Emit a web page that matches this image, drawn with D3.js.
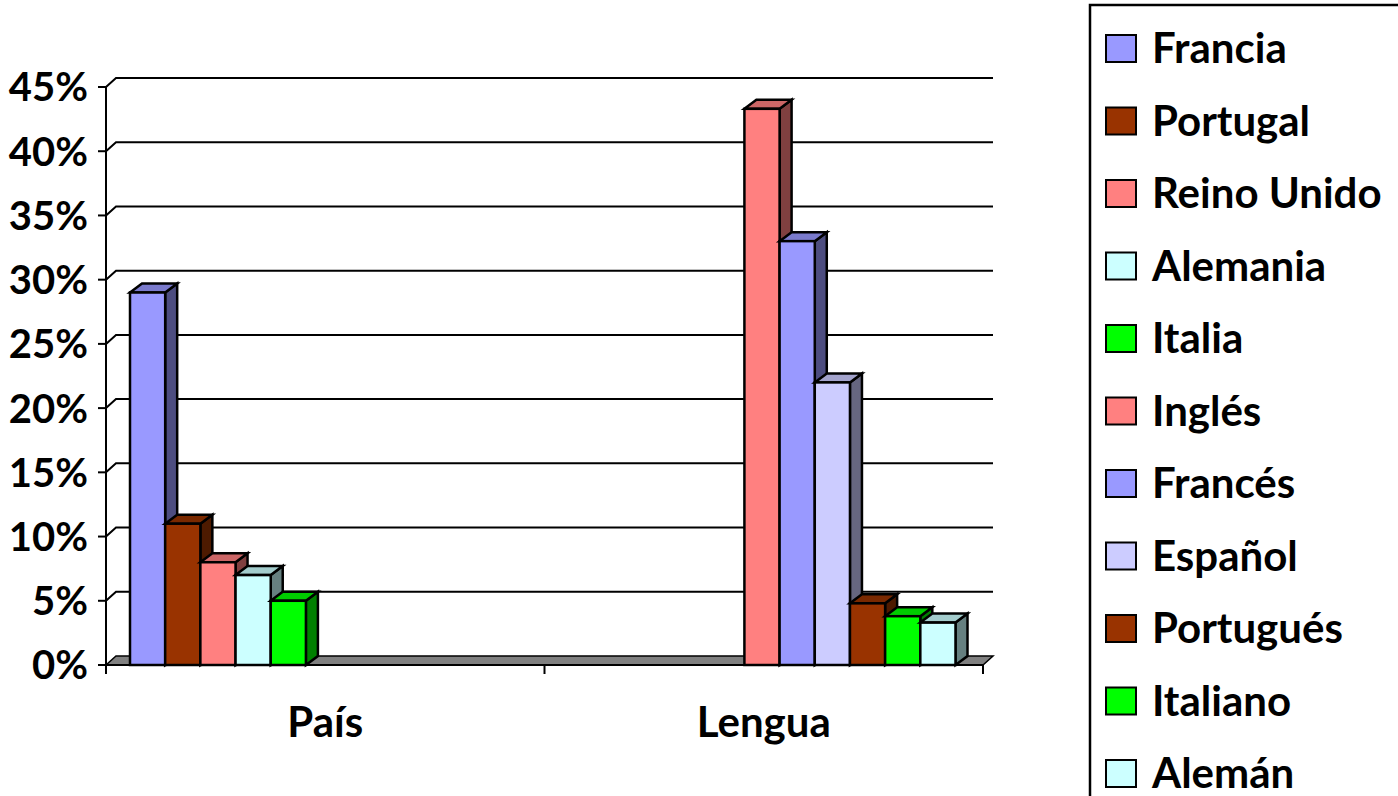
<!DOCTYPE html>
<html><head><meta charset="utf-8">
<script src="https://cdn.jsdelivr.net/npm/d3@7"></script>
<style>html,body{margin:0;padding:0;background:#fff;}svg{display:block;}</style>
</head><body>
<svg id="c" width="1398" height="796"></svg>
<script>
const categories = ["País", "Lengua"];
const seriesNames = ["Francia","Portugal","Reino Unido","Alemania","Italia","Inglés","Francés","Español","Portugués","Italiano","Alemán"];
const seriesColors = ["#9999FF","#993300","#FF8080","#CCFFFF","#00FF00","#FF8080","#9999FF","#CCCCFF","#993300","#00FF00","#CCFFFF"];
const paisValues   = [0.29, 0.11, 0.08, 0.07, 0.05, null, null, null, null, null, null];
const lenguaValues = [null, null, null, null, null, 0.433, 0.33, 0.22, 0.048, 0.038, 0.033];
const yTicks = [0,0.05,0.10,0.15,0.20,0.25,0.30,0.35,0.40,0.45];

const svg = d3.select("#c");
const FONT = "Lato, 'Open Sans', sans-serif";
const x0 = 106, x1 = 983, yBase = 665, yTop = 87;
const wdx = 10, wdy = -9;   // wall depth
const bdx = 12, bdy = -9;   // bar depth

const y = d3.scaleLinear().domain([0, 0.45]).range([yBase, yTop]);
const xCat = d3.scaleBand().domain(categories).range([x0, x1]).padding(0);
const xSer = d3.scaleBand().domain(seriesNames).range([24, 411]).padding(0);

const data = [];
categories.forEach((c, ci) => {
  const vals = ci === 0 ? paisValues : lenguaValues;
  seriesNames.forEach((s, si) => {
    if (vals[si] != null) data.push({cat: c, ser: s, v: vals[si], color: seriesColors[si]});
  });
});

// floor
svg.append("path")
  .attr("d", `M${x0},${yBase}L${x1},${yBase}L${x1+wdx},${yBase+wdy}L${x0+wdx},${yBase+wdy}Z`)
  .attr("fill", "#808080").attr("stroke", "#000").attr("stroke-width", 1.5);

// gridlines (back wall + left wall)
const g = svg.append("g");
yTicks.forEach(t => {
  if (t === 0) return;
  const yy = y(t);
  g.append("path")
    .attr("d", `M${x0},${yy}L${x0+wdx},${yy+wdy}L${x1+wdx},${yy+wdy}`)
    .attr("fill", "none").attr("stroke", "#000").attr("stroke-width", 2);
});

// y axis
svg.append("line").attr("x1", x0).attr("x2", x0).attr("y1", y(0.45)).attr("y2", yBase + 8)
  .attr("stroke", "#000").attr("stroke-width", 2);
yTicks.forEach(t => {
  svg.append("line").attr("x1", x0 - 8).attr("x2", x0).attr("y1", y(t)).attr("y2", y(t))
    .attr("stroke", "#000").attr("stroke-width", 2);
  svg.append("text").attr("x", 88).attr("y", y(t)).attr("dy", "0.36em")
    .attr("text-anchor", "end").attr("font-family", FONT).attr("font-weight", 700)
    .attr("font-size", 40).text(d3.format(".0%")(t));
});

// x axis
svg.append("line").attr("x1", x0).attr("x2", x1).attr("y1", yBase).attr("y2", yBase)
  .attr("stroke", "#000").attr("stroke-width", 2);
[x0, xCat("Lengua"), x1].forEach(xx => {
  svg.append("line").attr("x1", xx).attr("x2", xx).attr("y1", yBase).attr("y2", yBase + 9)
    .attr("stroke", "#000").attr("stroke-width", 2);
});
categories.forEach(c => {
  svg.append("text").attr("x", xCat(c) + xCat.bandwidth()/2).attr("y", 737)
    .attr("text-anchor", "middle").attr("font-family", FONT).attr("font-weight", 700)
    .attr("font-size", 42).text(c);
});

// bars
const shade = (col, k) => { const c = d3.rgb(col); return d3.rgb(c.r*k, c.g*k, c.b*k).formatHex(); };
data.forEach(d => {
  const bx = xCat(d.cat) + xSer(d.ser), bw = xSer.bandwidth();
  const ty = y(d.v), by = yBase;
  const bg = svg.append("g").attr("stroke", "#000").attr("stroke-width", 2.5).attr("stroke-linejoin", "miter");
  bg.append("path").attr("d", `M${bx+bw},${by}L${bx+bw+bdx},${by+bdy}L${bx+bw+bdx},${ty+bdy}L${bx+bw},${ty}Z`)
    .attr("fill", shade(d.color, 0.5));
  bg.append("path").attr("d", `M${bx},${ty}L${bx+bdx},${ty+bdy}L${bx+bw+bdx},${ty+bdy}L${bx+bw},${ty}Z`)
    .attr("fill", shade(d.color, 0.8));
  bg.append("rect").attr("x", bx).attr("y", ty).attr("width", bw).attr("height", by - ty)
    .attr("fill", d.color);
});

// legend
const lg = svg.append("g");
lg.append("rect").attr("x", 1090).attr("y", 5).attr("width", 320).attr("height", 800)
  .attr("fill", "#fff").attr("stroke", "#000").attr("stroke-width", 2.5);
const ly = d3.scalePoint().domain(seriesNames).range([48, 773]);
seriesNames.forEach((s, i) => {
  lg.append("rect").attr("x", 1106).attr("y", ly(s) - 13).attr("width", 30).attr("height", 27)
    .attr("fill", seriesColors[i]).attr("stroke", "#000").attr("stroke-width", 2);
  lg.append("text").attr("x", 1152).attr("y", ly(s)).attr("dy", "0.36em")
    .attr("font-family", FONT).attr("font-weight", 700).attr("font-size", 42).text(s);
});
</script>
</body></html>
